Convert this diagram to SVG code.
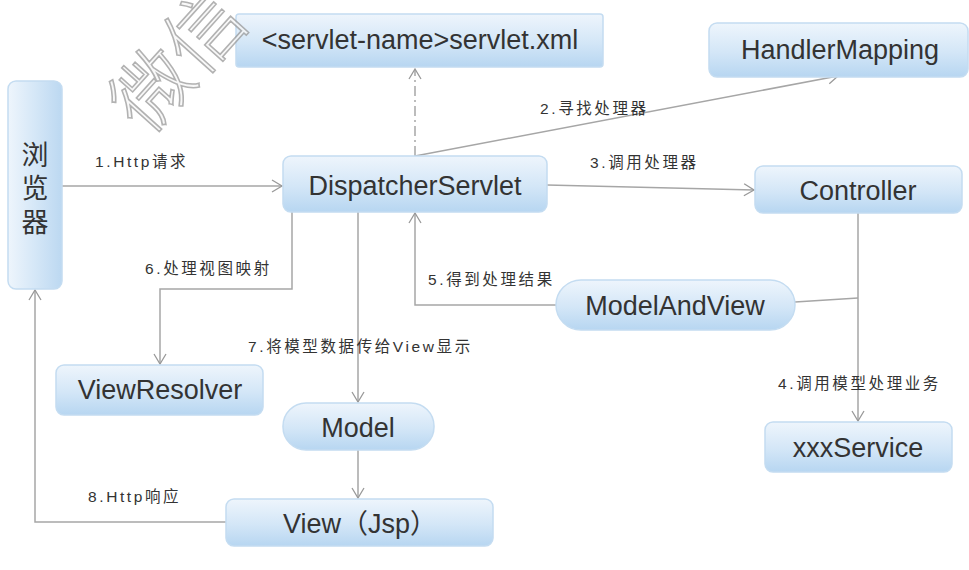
<svg xmlns="http://www.w3.org/2000/svg" width="969" height="570" viewBox="0 0 969 570">
<defs>
<linearGradient id="g" x1="0" y1="0" x2="0" y2="1">
<stop offset="0" stop-color="#eef5fc"/>
<stop offset="0.55" stop-color="#d3e6f7"/>
<stop offset="1" stop-color="#b7d6f1"/>
</linearGradient>
<linearGradient id="gv" x1="0" y1="0" x2="1" y2="0">
<stop offset="0" stop-color="#eef5fc"/>
<stop offset="0.5" stop-color="#d5e7f7"/>
<stop offset="1" stop-color="#bcd8f1"/>
</linearGradient>
<marker id="arr" markerWidth="14" markerHeight="14" refX="11" refY="7" orient="auto" markerUnits="userSpaceOnUse">
<path d="M1,1 L11,7 L1,13" fill="none" stroke="#999" stroke-width="1.3"/>
</marker>
<style>
.box{fill:url(#g);stroke:#c4dcf1;stroke-width:1.5}
.nt{font-family:"Liberation Sans","Noto Sans CJK SC",sans-serif;font-size:27px;fill:#333;text-anchor:middle}
.lb{font-family:"Liberation Sans","Noto Sans CJK SC",sans-serif;font-size:15.5px;letter-spacing:2.6px;fill:#333}
.ln{fill:none;stroke:#a6a6a6;stroke-width:1.5}
.wm{font-family:"Noto Sans CJK SC",sans-serif;font-size:78px;font-weight:300;fill:#f6f6f6;stroke:#999;stroke-width:1.6;opacity:0.75}
</style>
</defs>
<rect width="969" height="570" fill="#fff"/>
<g id="connectors">
<line class="ln" x1="62" y1="186" x2="282" y2="186" marker-end="url(#arr)"/>
<text class="lb" x="95" y="167">1.Http请求</text>
<line class="ln" x1="415" y1="156" x2="838" y2="76" marker-end="url(#arr)"/>
<text class="lb" x="540" y="114">2.寻找处理器</text>
<line class="ln" x1="415" y1="156" x2="415" y2="69" stroke-dasharray="10,4,2,4" marker-end="url(#arr)"/>
<line class="ln" x1="547" y1="185" x2="754" y2="190" marker-end="url(#arr)"/>
<text class="lb" x="590" y="168">3.调用处理器</text>
<line class="ln" x1="858" y1="213" x2="858" y2="421" marker-end="url(#arr)"/>
<line class="ln" x1="795" y1="302" x2="858" y2="298"/>
<text class="lb" x="778" y="389">4.调用模型处理业务</text>
<polyline class="ln" points="556,305 415,305 415,213" marker-end="url(#arr)"/>
<text class="lb" x="428" y="285">5.得到处理结果</text>
<polyline class="ln" points="292,212 292,289 160,289 160,364" marker-end="url(#arr)"/>
<text class="lb" x="145" y="274">6.处理视图映射</text>
<line class="ln" x1="358" y1="212" x2="358" y2="402" marker-end="url(#arr)"/>
<text class="lb" x="248" y="352">7.将模型数据传给View显示</text>
<line class="ln" x1="358" y1="450" x2="358" y2="498" marker-end="url(#arr)"/>
<polyline class="ln" points="226,522 35,522 35,290" marker-end="url(#arr)"/>
<text class="lb" x="88" y="502">8.Http响应</text>
</g>
<g id="servletxml">
<rect class="box" x="236" y="14" width="367" height="53" rx="3"/>
<text class="nt" x="420" y="49">&lt;servlet-name&gt;servlet.xml</text>
</g>
<g id="handlermapping">
<rect class="box" x="709" y="23" width="259" height="54" rx="8"/>
<text class="nt" x="840" y="59">HandlerMapping</text>
</g>
<g id="browser">
<rect x="8" y="81" width="54" height="208" rx="8" fill="url(#gv)" stroke="#c4dcf1" stroke-width="1.5"/>
<text class="nt" x="35" y="165" style="font-size:27px">浏</text>
<text class="nt" x="35" y="198" style="font-size:27px">览</text>
<text class="nt" x="35" y="232" style="font-size:27px">器</text>
</g>
<g id="dispatcherservlet">
<rect class="box" x="283" y="156" width="264" height="56" rx="8"/>
<text class="nt" x="415" y="195">DispatcherServlet</text>
</g>
<g id="controller">
<rect class="box" x="755" y="166" width="207" height="47" rx="8"/>
<text class="nt" x="858" y="200">Controller</text>
</g>
<g id="modelandview">
<rect class="box" x="556" y="280" width="239" height="50" rx="25"/>
<text class="nt" x="675" y="315">ModelAndView</text>
</g>
<g id="viewresolver">
<rect class="box" x="56" y="365" width="207" height="50" rx="8"/>
<text class="nt" x="160" y="399">ViewResolver</text>
</g>
<g id="model">
<rect class="box" x="283" y="403" width="151" height="47" rx="23"/>
<text class="nt" x="358" y="437">Model</text>
</g>
<g id="view">
<rect class="box" x="226" y="499" width="267" height="47" rx="8"/>
<text class="nt" x="360" y="533">View（Jsp）</text>
</g>
<g id="xxxservice">
<rect class="box" x="765" y="422" width="187" height="50" rx="8"/>
<text class="nt" x="858" y="457">xxxService</text>
</g>
<g id="watermark">
<text class="wm" x="0" y="0" transform="translate(147,137) rotate(-48)">微信</text>
</g>
</svg>
